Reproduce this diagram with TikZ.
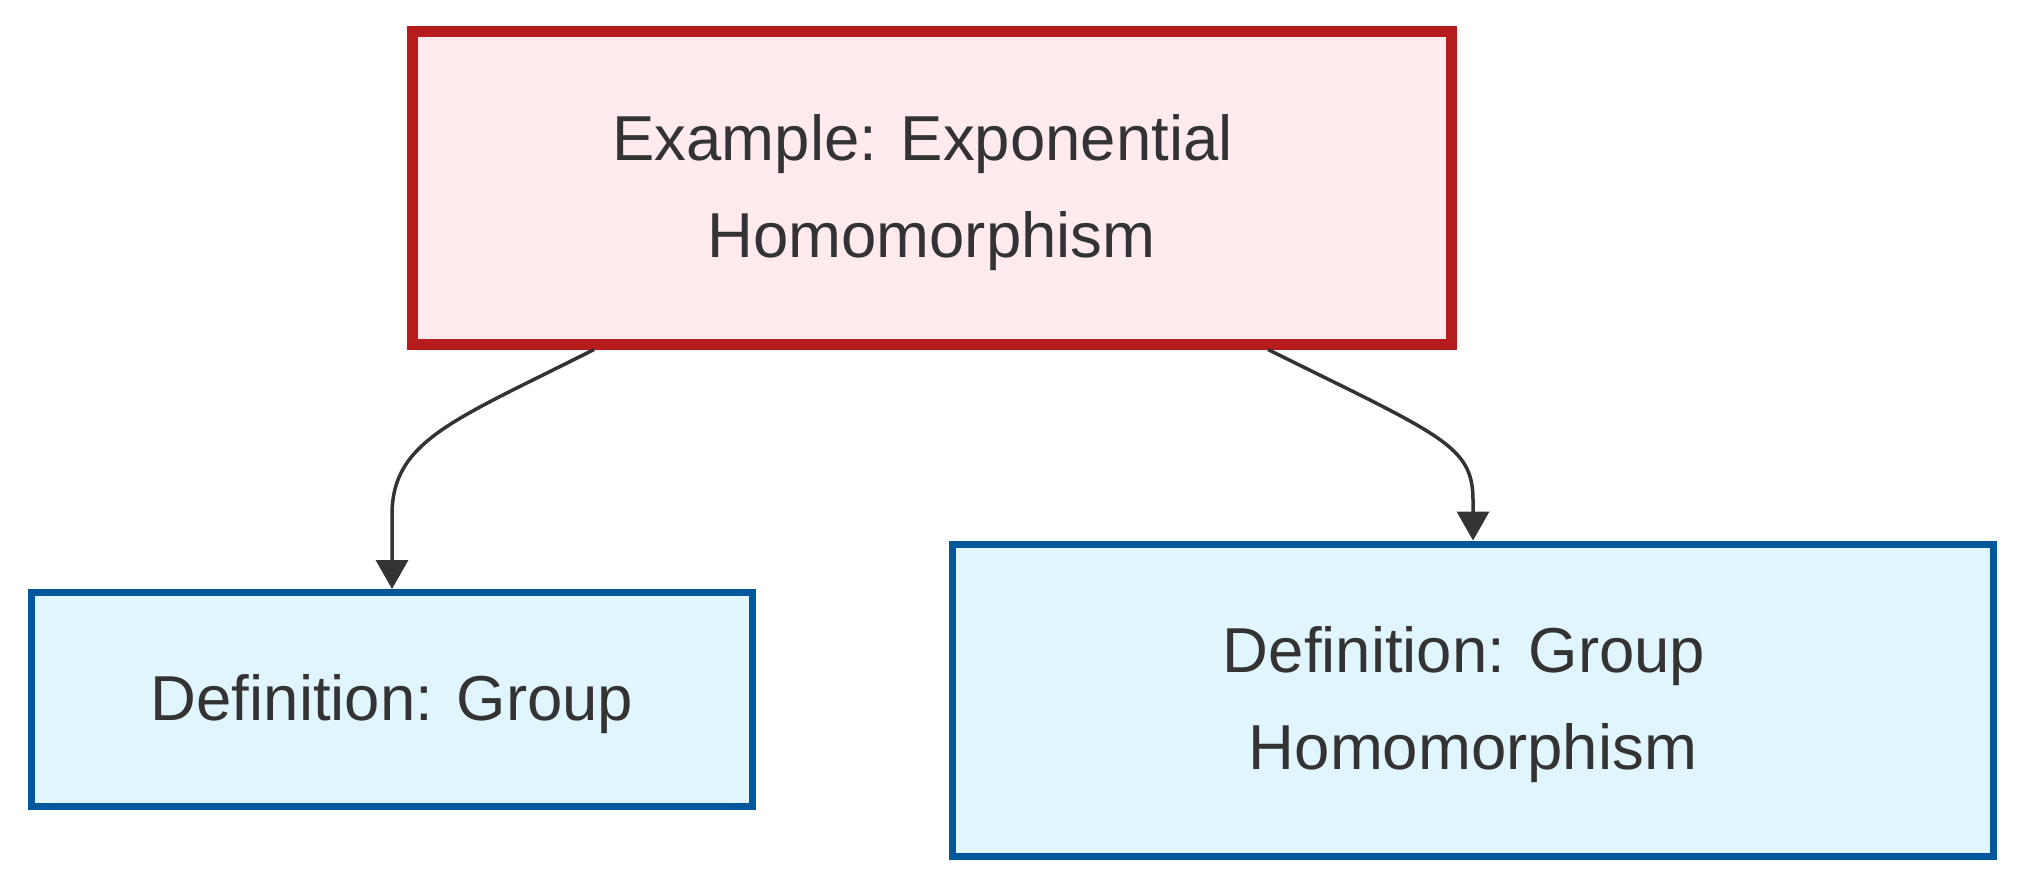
\documentclass[tikz,border=0pt]{standalone}
\usepackage{fontspec}
\setmainfont{Liberation Sans}
\usetikzlibrary{arrows.meta}
\definecolor{redline}{HTML}{B71C1C}
\definecolor{redfill}{HTML}{FFEBEE}
\definecolor{blueline}{HTML}{01579B}
\definecolor{bluefill}{HTML}{E1F5FE}
\definecolor{txt}{HTML}{333333}
\begin{document}
\begin{tikzpicture}[x=1pt,y=-1pt,
 box/.style={draw, rectangle, inner sep=0pt},
 label text/.style={inner sep=0pt, align=center, text=txt, yshift=-5pt, font=\fontsize{63.5}{97}\selectfont},
 example/.style={box, draw=redline, fill=redfill, line width=11pt},
 defbox/.style={box, draw=blueline, fill=bluefill, line width=7pt},
 link/.style={draw=txt, line width=3.5pt, -{Triangle[length=29pt,width=32pt]}}]
\useasboundingbox (0,0) rectangle (2024,888);
\node[example, minimum width=1039pt, minimum height=312pt] (ex) at (931.5,188) {};
\node[label text] (exT) at (ex.center) {Example: Exponential\hspace*{0.28em}\\Homomorphism};
\node[defbox, minimum width=721pt, minimum height=214pt] (dg) at (392,699.5) {};
\node[label text] (dgT) at (dg.center) {Definition: Group};
\node[defbox, minimum width=1041pt, minimum height=312pt] (dh) at (1473,700) {};
\node[label text] (dhT) at (dh.center) {Definition: Group\hspace*{0.28em}\\Homomorphism};
\draw[link] ([xshift=-337.5pt]ex.south) .. controls (455,420) and (392,440) .. (392,515) -- (dg.north);
\draw[link] ([xshift=336.5pt]ex.south) .. controls (1440,435) and (1473,445) .. (1473,500) -- (dh.north);
\end{tikzpicture}
\end{document}
